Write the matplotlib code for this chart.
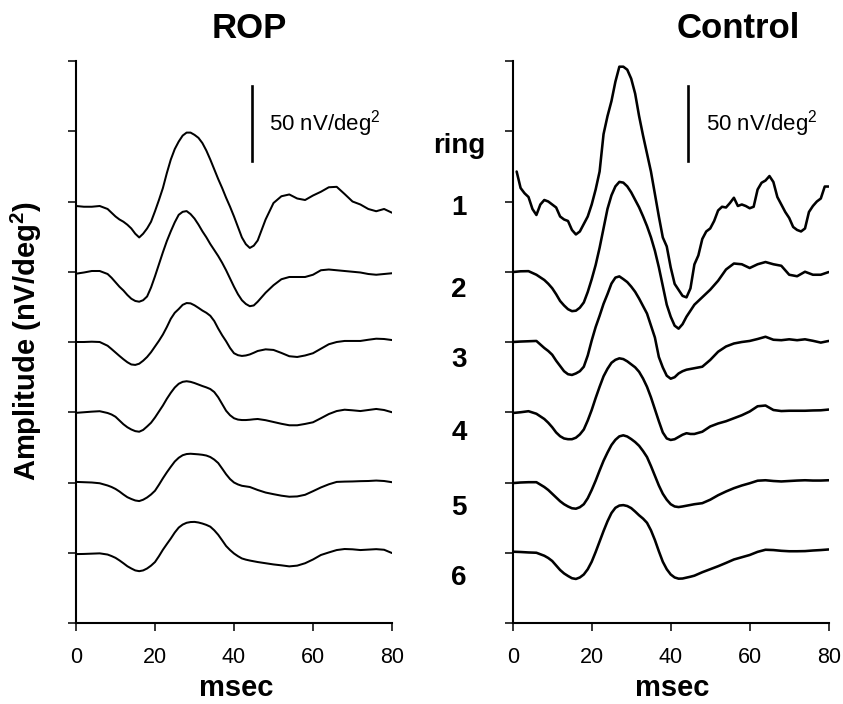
import numpy as np
import matplotlib
matplotlib.use('Agg')
import matplotlib.pyplot as plt

plt.rcParams['font.family'] = ['Liberation Sans', 'DejaVu Sans']
plt.rcParams['mathtext.fontset'] = 'custom'
plt.rcParams['mathtext.rm'] = 'Liberation Sans'
plt.rcParams['mathtext.it'] = 'Liberation Sans'
plt.rcParams['mathtext.bf'] = 'Liberation Sans:bold'

# ---------------- data (nV/deg^2, relative to each ring's baseline) ----------------
# sampling grid (msec): every 2 ms at the ends, every 1 ms through the main waves
t_ms = np.array([0, 2, 4, 6, 8] + list(range(9, 47)) + list(range(48, 81, 2)))
t_r1_ctrl = np.arange(1, 81, 1)     # 1-ms grid for the noisy control ring 1

rop_ring1 = [-3, -3.5, -3.5, -3, -5,
             -7.5, -10, -12, -13.5, -15.5, -18, -21.5, -24, -21.5, -18, -13.5, -6.5, 1, 9, 19, 28, 35, 40, 44,
             46, 46, 44.5, 42.5, 39, 34, 28, 21.5, 15, 9, 2.5, -3.5, -10, -17, -24, -28.5, -31, -29.5, -26,
             -12, -1, 3.5, 4.7, 2, 1, 4, 6.5, 9.5, 9.8, 5, 0, -2, -5, -6.5, -5, -7.5]
rop_ring2 = [-1.3, -0.5, 0.5, 0.5, -1.5,
             -4, -7, -10, -12.5, -15.5, -18, -19.5, -20, -19, -16.5, -10.5, -3, 5, 13, 20.5, 27, 33, 38, 40,
             40.5, 38.5, 35.5, 31.5, 27, 23, 18.5, 14.5, 10.5, 6, 1, -4.5, -10, -15, -19, -21.5, -23, -22.5, -20,
             -14, -9, -5, -3.5, -3.5, -3.5, -2, 1, 1.5, 1, 0.5, 0, -0.5, -1.5, -2, -1.5, -1]
rop_ring3 = [0, 0, 0.2, 0, -2.5,
             -4.7, -7, -9.3, -11.5, -13.5, -15, -15.3, -14.5, -12.5, -10, -6.8, -3, 0.8, 5, 10, 15.5, 19.5, 22,
             24.8, 26, 25.8, 24.5, 22.8, 21, 19.5, 17.5, 14, 9, 4.5, 0.5, -4, -7.5, -8.8, -9.3, -9, -8.3, -7.2, -6,
             -4.9, -5.3, -7.3, -9.5, -10, -9, -7.5, -4.5, -1.5, 0, 0.7, 0.7, 0.7, 1.5, 2.2, 2, 1.3]
rop_ring4 = [-0.4, 0, 0.4, 0.7, -0.5,
             -1.5, -3, -5.5, -8, -10, -11.5, -12.6, -13, -11.8, -9.5, -7, -3.5, 0.5, 4.5, 9, 13, 16.5, 19, 20.3,
             20.7, 20.3, 19.5, 18.5, 17.5, 16.6, 15.5, 13.5, 10, 5.5, 1, -2, -4, -4.9, -5.2, -5.2, -5, -4.7, -4.5,
             -5.3, -6.5, -7.7, -8.7, -8.7, -7.8, -6.7, -4, -1.2, 0.8, 1.7, 1.3, 0.8, 1.5, 2.2, 1.5, 0]
rop_ring5 = [0.4, 0.2, 0, -0.5, -2,
             -3, -4.3, -6, -8, -9.8, -11, -12, -12.4, -11.5, -10, -8, -5.5, -1.5, 2.8, 6.8, 10.5, 14, 16.5, 18.2,
             19, 19.2, 19, 18.8, 18.5, 18, 17, 15.3, 13, 9.3, 5.5, 2.3, 0, -1.3, -2.2, -2.6, -3, -4, -5,
             -6.7, -7.8, -8.8, -9.5, -9.3, -8.2, -5.8, -3.3, -1.2, 0.4, 0.6, 0.7, 0.9, 1, 1.3, 1, 0.2]
rop_ring6 = [-0.9, -0.8, -0.6, -0.4, -1.2,
             -2.2, -3.4, -5.1, -7, -9, -10.5, -11.8, -12.3, -11.8, -10.5, -8.6, -6.2, -2.3, 2, 5.8, 9.5, 13.5,
             16.8, 18.8, 20, 20.5, 20.6, 20.2, 19.5, 18.6, 17.4, 15, 12, 8.3, 4.5, 1.8, -0.5, -2.3, -3.8, -4.6,
             -5.2, -5.7, -6.2,
             -7, -7.8, -8.4, -9.1, -8.6, -7, -4.5, -1.5, 0.2, 1.8, 2.5, 2.3, 1.8, 2.1, 2.4, 2, -0.2]

ctrl_ring1 = [20, 9, 5.5, 3, -5, -9, -2, 1, 0, -2, -4, -10, -12, -13, -19, -22, -20, -15, -10, -2, 8, 20,
              45, 57, 67, 80, 90, 90, 88, 82, 72, 57, 44, 32, 20, 5, -10, -24, -30, -44, -55, -59, -63, -64,
              -58, -42, -36, -25, -20, -18, -13, -6, -3.5, -4, -1, 2.5, -3, -2, -3, -4.5, -3.5, 8, 12.5, 14,
              17, 13, 3, -2, -7, -11, -17, -19, -20, -18, -7, -3, 0, 2, 10, 10]
ctrl_ring2 = [-0.2, 0.3, 0.4, -2, -5.5,
              -8, -11, -15, -19.5, -22.5, -25, -26.3, -26, -24, -20.5, -13.5, -5, 4.5, 16, 29, 42, 51, 57, 60,
              59.5, 57, 53, 48, 43, 37, 30.5, 23, 14, 3, -9.5, -22, -30, -36, -38, -35, -30, -26, -22,
              -17, -12, -6, 1.5, 5.5, 5, 2.5, 5, 6.5, 5, 4, -2, -3, 0, -2, -2, -0.2]
ctrl_ring3 = [0, 0.3, 0.5, 0.7, -4,
              -6, -8.5, -12.5, -16, -19.5, -21.5, -22, -21, -19.5, -16.5, -9, 1, 10, 17.5, 25.5, 32, 39, 43,
              43.8, 42, 40, 37, 33.5, 29, 24, 19, 11, 3, -10, -17, -22.5, -24.5, -23.5, -21, -19.5, -18.5, -18,
              -17.5,
              -16.5, -12, -6.5, -3, -1, 0, 0.7, 2, 3.5, 1.5, 1.2, 1.8, 1.2, 1.8, 0.8, -0.4, 0.7]
ctrl_ring4 = [-0.5, 0, 0.7, -1, -4.5,
              -7, -10, -13.5, -16, -17.5, -18, -18, -17, -14.8, -11.5, -5.5, 1.5, 9.5, 17, 24, 29, 33, 35, 36,
              35.5, 34, 32, 30, 27, 22.5, 17, 10, 2, -6, -13.5, -17.5, -18.5, -18, -16.5, -15, -14, -14.5, -14.5,
              -13, -9.5, -7.5, -6, -4, -2, 0.5, 4, 4.5, 1.5, 0.8, 1, 1, 1, 1.2, 1.3, 1.8]
ctrl_ring5 = [-0.4, 0, 0.2, 0.2, -3,
              -5, -7.5, -10, -12.5, -14.5, -16, -17.2, -17.5, -16.5, -14.5, -10.5, -5, 1.2, 8, 14.5, 20, 25,
              28.5, 30.8, 31.5, 30.7, 29, 27, 24.5, 21, 17, 11, 4.5, -2, -7.5, -11.5, -14.5, -16, -16.4, -16,
              -15.5, -15, -14.5,
              -13.8, -11.5, -8.5, -6, -3.8, -2, -0.5, 1.2, 1.5, 1, 0.7, 1, 1.3, 1.5, 1.3, 1.3, 1.5]
ctrl_ring6 = [0.7, 0.5, 0.2, 0, -2,
              -3.5, -5.5, -8.5, -11.5, -13.8, -15.5, -17, -17.5, -16.5, -14.5, -11, -6, 0.5, 7.5, 14.5, 21,
              26.5, 30, 31.5, 31.8, 31.2, 29.8, 27.5, 25, 22.8, 20, 15, 8.5, 1, -6, -11, -14.5, -16.5, -17.3,
              -17.2, -16.6, -16, -15.3,
              -13, -11, -9, -6.8, -4.5, -3, -1.5, 0.6, 2, 1.8, 1.3, 1, 1, 1.1, 1.5, 1.8, 2.2]

ring_names = ['1', '2', '3', '4', '5', '6']
x_ticks = [0, 20, 40, 60, 80]
scale_bar_nv = 50

rop_traces = [(t_ms, rop_ring1), (t_ms, rop_ring2), (t_ms, rop_ring3),
              (t_ms, rop_ring4), (t_ms, rop_ring5), (t_ms, rop_ring6)]
ctrl_traces = [(t_r1_ctrl, ctrl_ring1), (t_ms, ctrl_ring2), (t_ms, ctrl_ring3),
               (t_ms, ctrl_ring4), (t_ms, ctrl_ring5), (t_ms, ctrl_ring6)]
for tt, vv in rop_traces + ctrl_traces:
    assert len(tt) == len(vv), (len(tt), len(vv))

# ---------------- layout ----------------
W, H = 843, 704
SPACING = 46.9   # vertical distance between ring baselines (nV/deg^2)

fig = plt.figure(figsize=(W / 100, H / 100), dpi=100)
ax_l = fig.add_axes([76 / W, 81 / H, 316 / W, 562 / H])
ax_r = fig.add_axes([512.7 / W, 81 / H, 316 / W, 562 / H])


def style(ax):
    ax.set_xlim(0, 80)
    ax.set_ylim(0, 8 * SPACING)
    for s in ['top', 'right']:
        ax.spines[s].set_visible(False)
    for s in ['left', 'bottom']:
        ax.spines[s].set_linewidth(1.5)
    ax.set_xticks(x_ticks)
    ax.set_xticklabels([str(v) for v in x_ticks])
    ax.set_yticks([k * SPACING for k in range(9)])
    ax.set_yticklabels([])
    ax.tick_params(axis='both', direction='out', length=5.5, width=1.1, labelsize=15.5)
    ax.tick_params(axis='x', pad=12)
    ax.patch.set_alpha(0)


for ax, traces, lw in [(ax_l, rop_traces, 1.45), (ax_r, ctrl_traces, 1.85)]:
    style(ax)
    for k, (tt, vals) in enumerate(traces):
        base = (6 - k) * SPACING
        ax.plot(tt, np.asarray(vals) + base, color='black', lw=lw,
                solid_joinstyle='round', solid_capstyle='round')
    bar_top = (623 - 85) / 1.5
    ax.plot([44.5, 44.5], [bar_top - scale_bar_nv, bar_top], color='black', lw=1.9)
    ax.text(48.9, bar_top - 25, f'{scale_bar_nv} nV/deg$^{{2}}$', ha='left', va='center', fontsize=16)

# titles
fig.text(249 / W, 1 - 29 / H, 'ROP', ha='center', va='center', fontsize=25, fontweight='bold')
fig.text(738 / W, 1 - 29 / H, 'Control', ha='center', va='center', fontsize=25, fontweight='bold')

# axis labels
fig.text(26 / W, 1 - 341 / H, r'Amplitude (nV/deg$^{\mathbf{2}}$)', rotation=90, ha='center',
         va='center', fontsize=21, fontweight='bold')
fig.text(236 / W, 1 - 688 / H, 'msec', ha='center', va='center', fontsize=21, fontweight='bold')
fig.text(672 / W, 1 - 688 / H, 'msec', ha='center', va='center', fontsize=21, fontweight='bold')

# ring labels
ring_label_px = [208, 290, 360, 433, 508, 578]
fig.text(459 / W, 1 - 146 / H, 'ring', ha='center', va='center', fontsize=20, fontweight='bold')
for name, py in zip(ring_names, ring_label_px):
    fig.text(459 / W, 1 - py / H, name, ha='center', va='center', fontsize=20, fontweight='bold')

fig.savefig('out.png', dpi=100, facecolor='white')
